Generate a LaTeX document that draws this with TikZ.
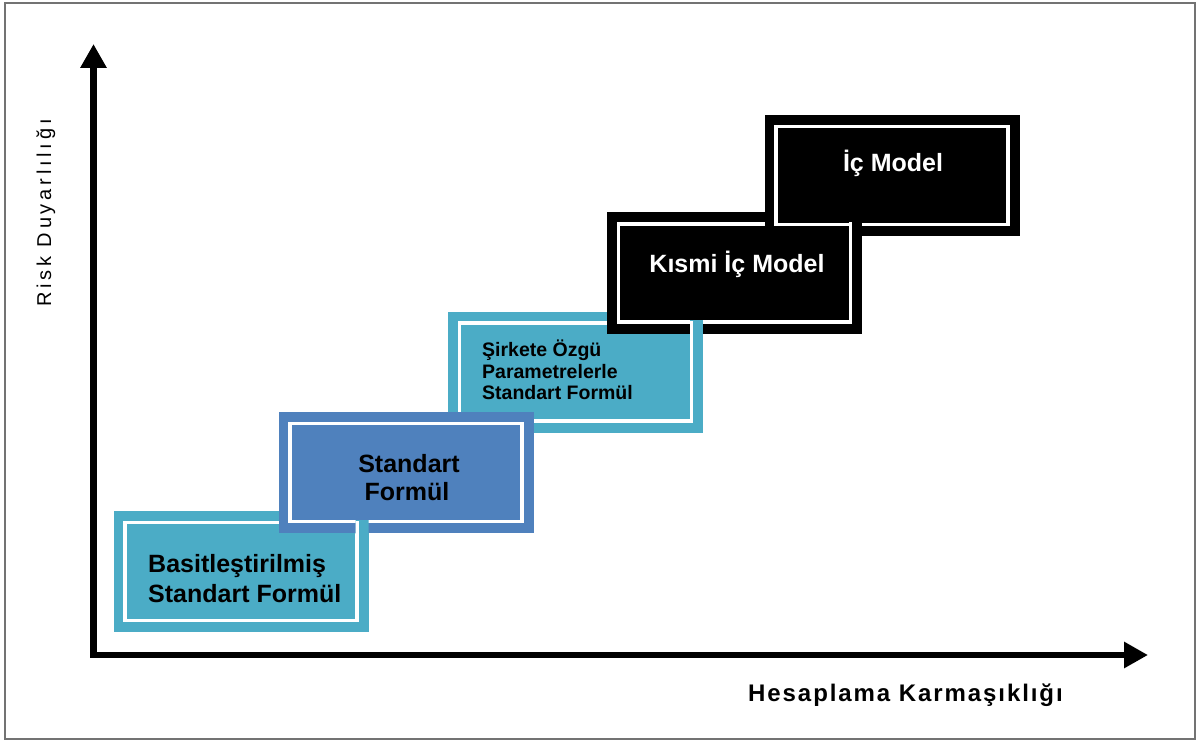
\documentclass[tikz,border=0pt]{standalone}
\usepackage{fontspec}
\setmainfont{Liberation Sans}
\usetikzlibrary{arrows.meta}

\definecolor{aqua}{RGB}{75,172,198}
\definecolor{steel}{RGB}{79,129,189}

\tikzset{
  frame/.style={draw=black!55, line width=1.5pt},
  axis/.style={line width=6.5pt, line join=miter,
    {Triangle[length=24pt,width=25pt]}-{Triangle[length=24pt,width=25pt]}},
  stage/.style={inner sep=0pt, minimum width=255pt, minimum height=121pt, draw=none},
  gap/.style={draw=white, line width=3.5pt},
  boxtext/.style={inner sep=0pt, font=\bfseries\fontsize{25}{30}\selectfont},
  smalltext/.style={inner sep=0pt, font=\bfseries\fontsize{19.5}{22}\selectfont},
  xlabel/.style={inner sep=0pt, font=\bfseries\fontsize{24}{28}\selectfont\addfontfeature{LetterSpace=8}},
  ylabel/.style={inner sep=0pt, font=\fontsize{20}{24}\selectfont\addfontfeature{LetterSpace=19}}
}

% white inset line of a stage box
\newcommand\stagegap[1]{%
  \draw[gap] ([shift={(11.5,11.5)}]#1.north west) rectangle ([shift={(-11.5,-11.5)}]#1.south east);}
% a whole stage box: name, colour, centre
\newcommand\stagebox[3]{%
  \node[stage, fill=#2] (#1) at (#3) {};
  \stagegap{#1}}
% repaint a stage box inside a clip window
\newcommand\stagerepaint[2]{%
  \fill[#2] (#1.north west) rectangle (#1.south east);
  \stagegap{#1}}

\begin{document}
\begin{tikzpicture}[x=1pt, y=-1pt]
  \useasboundingbox (0,0) rectangle (1198,743);
  \draw[frame] (5,3) rectangle (1195,739);

  % axes
  \coordinate (origin) at (93.5,655);
  \coordinate (ytip) at (93.5,44);
  \coordinate (xtip) at (1148,655);
  \draw[axis] (ytip) -- (origin) -- (xtip);

  % stage boxes
  \stagebox{s1}{aqua}{241,571.5}
  \stagebox{s3}{aqua}{575.5,372}
  \stagebox{s2}{steel}{406,472.5}
  \stagebox{s4}{black}{734.5,273}
  \stagebox{s5}{black}{892,175.5}

  % right edges of lower boxes run over the next box's bottom rim
  \begin{scope}
    \clip (355.5,520) rectangle (368.5,533);
    \stagerepaint{s1}{aqua}
  \end{scope}
  \begin{scope}
    \clip (690,320.5) rectangle (703,333.5);
    \stagerepaint{s3}{aqua}
  \end{scope}
  \begin{scope}
    \clip (849,223) rectangle (862,236);
    \stagerepaint{s4}{black}
  \end{scope}

  % box texts
  \node[boxtext, anchor=base west] (t1a) at (148,572) {Basitleştirilmiş};
  \node[boxtext, anchor=base west] (t1b) at (148,602) {Standart Formül};
  \node[boxtext, anchor=base] (t2a) at (409,472) {Standart};
  \node[boxtext, anchor=base] (t2b) at (407,500) {Formül};
  \node[smalltext, anchor=base west] (t3a) at (482,356) {Şirkete Özgü};
  \node[smalltext, anchor=base west] (t3b) at (482,378) {Parametrelerle};
  \node[smalltext, anchor=base west] (t3c) at (482,399) {Standart Formül};
  \node[boxtext, anchor=base, text=white] (t4) at (737,272) {Kısmi İç Model};
  \node[boxtext, anchor=base, text=white] (t5) at (893,172) {İç Model};

  % axis labels
  \node[xlabel, anchor=base west] (xl) at (748,701) {Hesaplama Karmaşıklığı};
  \node[ylabel, anchor=base west, rotate=90] (yl) at (51,307) {Risk Duyarlılığı};
\end{tikzpicture}
\end{document}
